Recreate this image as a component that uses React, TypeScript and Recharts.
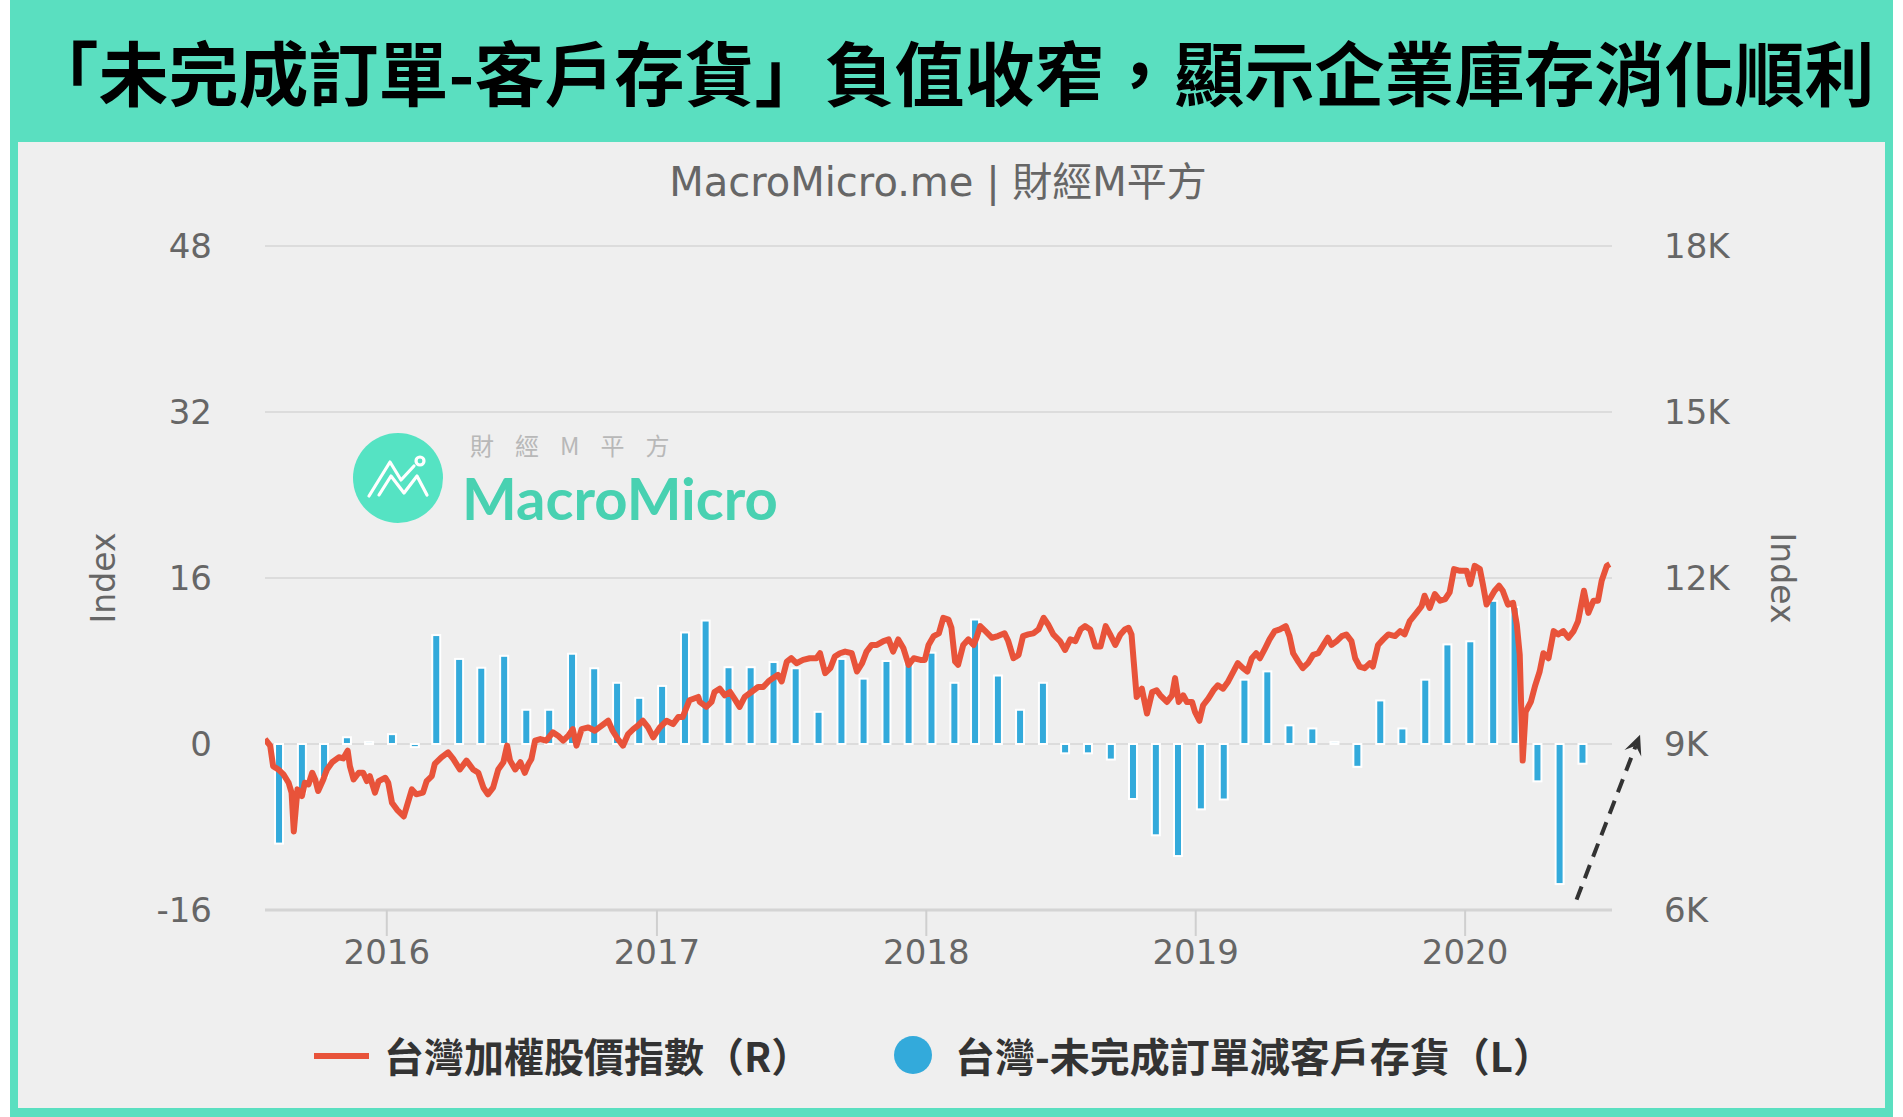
import React from 'react'
import { Bar, CartesianGrid, ComposedChart, Line, ReferenceLine, XAxis, YAxis } from 'recharts'

// monthly: Taiwan unfilled orders minus customer inventories (left axis)
const months = [
  '2015-08', '2015-09', '2015-10', '2015-11', '2015-12',
  '2016-01', '2016-02', '2016-03', '2016-04', '2016-05', '2016-06', '2016-07', '2016-08', '2016-09', '2016-10', '2016-11', '2016-12',
  '2017-01', '2017-02', '2017-03', '2017-04', '2017-05', '2017-06', '2017-07', '2017-08', '2017-09', '2017-10', '2017-11', '2017-12',
  '2018-01', '2018-02', '2018-03', '2018-04', '2018-05', '2018-06', '2018-07', '2018-08', '2018-09', '2018-10', '2018-11', '2018-12',
  '2019-01', '2019-02', '2019-03', '2019-04', '2019-05', '2019-06', '2019-07', '2019-08', '2019-09', '2019-10', '2019-11', '2019-12',
  '2020-01', '2020-02', '2020-03', '2020-04', '2020-05', '2020-06',
]
const backlogValues = [
  -9.6, -4.7, -3.2, 0.65, 0.2,
  0.95, -0.3, 10.5, 8.2, 7.35, 8.5, 3.3, 3.3, 8.7, 7.3, 5.9, 4.45,
  5.6, 10.75, 11.9, 7.4, 7.4, 7.9, 7.3, 3.1, 8.2, 6.3, 8.0, 8.0,
  8.8, 5.9, 12.0, 6.6, 3.3, 5.9, -0.9, -0.9, -1.5, -5.3, -8.8, -10.8,
  -6.3, -5.35, 6.2, 7.0, 1.8, 1.5, 0.2, -2.2, 4.2, 1.5, 6.2, 9.6,
  9.9, 13.8, 13.2, -3.6, -13.5, -1.9,
]

// TAIEX (right axis)
const indexDates = [
  '2015-07-20', '2015-07-27', '2015-07-31',
  '2015-08-07', '2015-08-14', '2015-08-21', '2015-08-25', '2015-08-28', '2015-08-31',
  '2015-09-02', '2015-09-08', '2015-09-12', '2015-09-17', '2015-09-22', '2015-09-26', '2015-09-30',
  '2015-10-07', '2015-10-12', '2015-10-19', '2015-10-28',
  '2015-11-03', '2015-11-09', '2015-11-12', '2015-11-17', '2015-11-24', '2015-11-30',
  '2015-12-05', '2015-12-09', '2015-12-16', '2015-12-21', '2015-12-30',
  '2016-01-03', '2016-01-08', '2016-01-15', '2016-01-24', '2016-01-28',
  '2016-02-04', '2016-02-10', '2016-02-19', '2016-02-24',
  '2016-03-02', '2016-03-06', '2016-03-15', '2016-03-24', '2016-03-31',
  '2016-04-09', '2016-04-18', '2016-04-27',
  '2016-05-04', '2016-05-11', '2016-05-17', '2016-05-24', '2016-05-31',
  '2016-06-07', '2016-06-12', '2016-06-16', '2016-06-23', '2016-06-30',
  '2016-07-06', '2016-07-11', '2016-07-15', '2016-07-20', '2016-07-27',
  '2016-08-04', '2016-08-13', '2016-08-20', '2016-08-27',
  '2016-09-03', '2016-09-09', '2016-09-14', '2016-09-21', '2016-09-30',
  '2016-10-09', '2016-10-15', '2016-10-27',
  '2016-11-02', '2016-11-09', '2016-11-16', '2016-11-23', '2016-11-30',
  '2016-12-06', '2016-12-13', '2016-12-20', '2016-12-27',
  '2017-01-05', '2017-01-14', '2017-01-23', '2017-01-30',
  '2017-02-05', '2017-02-14', '2017-02-26', '2017-02-28',
  '2017-03-09', '2017-03-16', '2017-03-20', '2017-03-27',
  '2017-04-03', '2017-04-10', '2017-04-16', '2017-04-23', '2017-04-30',
  '2017-05-09', '2017-05-18', '2017-05-25',
  '2017-06-01', '2017-06-07', '2017-06-14', '2017-06-19', '2017-06-26',
  '2017-07-02', '2017-07-09', '2017-07-18', '2017-07-27',
  '2017-08-05', '2017-08-10', '2017-08-17', '2017-08-24', '2017-08-30',
  '2017-09-06', '2017-09-13', '2017-09-22', '2017-09-29',
  '2017-10-06', '2017-10-12', '2017-10-19', '2017-10-26',
  '2017-11-04', '2017-11-11', '2017-11-17', '2017-11-24',
  '2017-12-01', '2017-12-08', '2017-12-15', '2017-12-24', '2017-12-30',
  '2018-01-04', '2018-01-11', '2018-01-18', '2018-01-24', '2018-01-31',
  '2018-02-04', '2018-02-09', '2018-02-13', '2018-02-20', '2018-02-27',
  '2018-03-06', '2018-03-10', '2018-03-15', '2018-03-22', '2018-03-31',
  '2018-04-08', '2018-04-17', '2018-04-22', '2018-04-29',
  '2018-05-06', '2018-05-12', '2018-05-19', '2018-05-26',
  '2018-06-02', '2018-06-09', '2018-06-15', '2018-06-22',
  '2018-07-01', '2018-07-08', '2018-07-15', '2018-07-22', '2018-07-29',
  '2018-08-04', '2018-08-11', '2018-08-18', '2018-08-25',
  '2018-09-01', '2018-09-07', '2018-09-14', '2018-09-21', '2018-09-27',
  '2018-10-02', '2018-10-06', '2018-10-09', '2018-10-13', '2018-10-20', '2018-10-27',
  '2018-11-03', '2018-11-09', '2018-11-14', '2018-11-23', '2018-11-30',
  '2018-12-04', '2018-12-09', '2018-12-15', '2018-12-20', '2018-12-27', '2018-12-31',
  '2019-01-06', '2019-01-11', '2019-01-18', '2019-01-25', '2019-01-31',
  '2019-02-07', '2019-02-14', '2019-02-21', '2019-02-27',
  '2019-03-06', '2019-03-12', '2019-03-18', '2019-03-24', '2019-03-29',
  '2019-04-05', '2019-04-11', '2019-04-18', '2019-04-25',
  '2019-05-03', '2019-05-08', '2019-05-13', '2019-05-20', '2019-05-26',
  '2019-06-02', '2019-06-09', '2019-06-16', '2019-06-23', '2019-06-29',
  '2019-07-04', '2019-07-11', '2019-07-18', '2019-07-24', '2019-07-31',
  '2019-08-05', '2019-08-11', '2019-08-18', '2019-08-25', '2019-08-29',
  '2019-09-05', '2019-09-12', '2019-09-19', '2019-09-28',
  '2019-10-05', '2019-10-11', '2019-10-18', '2019-10-27',
  '2019-11-03', '2019-11-07', '2019-11-14', '2019-11-21', '2019-11-28',
  '2019-12-05', '2019-12-11', '2019-12-17', '2019-12-25',
  '2020-01-03', '2020-01-08', '2020-01-14', '2020-01-21', '2020-01-25', '2020-01-30',
  '2020-02-06', '2020-02-10', '2020-02-16', '2020-02-21', '2020-02-28',
  '2020-03-06', '2020-03-11', '2020-03-15', '2020-03-19', '2020-03-23', '2020-03-30',
  '2020-04-05', '2020-04-11', '2020-04-16', '2020-04-23', '2020-04-30',
  '2020-05-06', '2020-05-13', '2020-05-20', '2020-05-27',
  '2020-06-02', '2020-06-10', '2020-06-16', '2020-06-23', '2020-06-29',
  '2020-07-04', '2020-07-11', '2020-07-15',
]
const indexValues = [
  9090, 8970, 8600,
  8540, 8450, 8300, 8120, 7420, 7870,
  8180, 8060, 8300, 8270, 8480, 8360, 8150,
  8360, 8540, 8670, 8760,
  8740, 8880, 8600, 8360, 8480, 8480,
  8330, 8420, 8120, 8330, 8390,
  8300, 7940, 7810, 7690, 7870,
  8180, 8090, 8120, 8330,
  8420, 8640, 8760, 8850, 8730,
  8540, 8700, 8540,
  8480, 8210, 8090, 8210, 8540,
  8670, 8970, 8700, 8540, 8670,
  8480, 8640, 8730, 9060, 9090,
  9060, 9210, 9150, 9060,
  9150, 9270, 8970, 9270, 9300,
  9240, 9300, 9420,
  9240, 9090, 8970, 9180, 9270,
  9330, 9420, 9300, 9120,
  9300, 9420, 9360, 9490,
  9490, 9790, 9850, 9760,
  9670, 9760, 9940, 10000,
  9880, 9940, 9820, 9670, 9850,
  9940, 10030, 10030,
  10130, 10190, 10250, 10130, 10490,
  10550, 10460, 10520, 10550,
  10550, 10640, 10280, 10370, 10580,
  10640, 10670, 10640, 10310,
  10460, 10670, 10790, 10790,
  10860, 10890, 10670, 10890,
  10730, 10430, 10550, 10520, 10520,
  10790, 10950, 11000, 11280, 11250,
  11100, 10490, 10430, 10790, 10890,
  10790, 10920, 11130, 11040, 10920,
  10950, 11000, 10860, 10550,
  10610, 10950, 10980, 11000,
  11070, 11280, 11160, 10980,
  10860, 10700, 10890, 10860, 11070,
  11130, 11070, 10760, 10760,
  11130, 10980, 10790, 10980, 11070,
  11100, 10980, 10490, 9850, 10000, 9550,
  9940, 9970, 9880, 9760, 9880,
  10190, 9760, 9880, 9760, 9760, 9580,
  9420, 9700, 9820, 9970, 10060,
  10000, 10130, 10310, 10460,
  10370, 10310, 10550, 10640, 10550,
  10730, 10890, 11040, 11070,
  11130, 10950, 10640, 10490, 10370,
  10460, 10610, 10640, 10790, 10920,
  10790, 10860, 10950, 10980, 10860,
  10550, 10400, 10370, 10460, 10400,
  10790, 10890, 10980, 10950,
  11040, 10980, 11220, 11370,
  11490, 11680, 11460, 11710, 11590,
  11620, 11740, 12160, 12130,
  12130, 11890, 12220, 12160, 11890, 11520,
  11680, 11770, 11860, 11770, 11520,
  11550, 11160, 10610, 8700, 9580, 9760,
  10060, 10310, 10640, 10550, 11040,
  10980, 11040, 10920, 11040,
  11220, 11770, 11370, 11590, 11590,
  11950, 12220, 12250,
]

const yearLabels = ['2016', '2017', '2018', '2019', '2020']
const leftTicks = [-16, 0, 16, 32, 48]
const rightTicks = [6000, 9000, 12000, 15000, 18000]
const dateRange = ['2015-07-20', '2020-07-18']
const arrowPath = [
  { date: '2020-05-31', value: -15 },
  { date: '2020-08-25', value: 0.9 },
]
const legendItems = ['台灣加權股價指數（R）', '台灣-未完成訂單減客戶存貨（L）']

const barData = months.map((m, i) => {
  const [y, mo] = m.split('-').map(Number)
  return { t: Date.UTC(y, mo - 1, 8), backlog: backlogValues[i] }
})
const lineData = indexDates.map((d, i) => ({ t: Date.parse(d), twse: indexValues[i] }))
const yearTicks = yearLabels.map((y) => Date.UTC(Number(y), 0, 1))

const TEAL = '#5ADFC0'
const RED = '#E8533A'
const BLUE = '#33AADB'
const AXIS_FONT = 'DejaVu Sans, Verdana, sans-serif'
const CJK_FONT = '"Noto Sans CJK TC", "Noto Sans CJK SC", sans-serif'
const tickStyle = { fill: '#666', fontSize: 34, fontFamily: AXIS_FONT }
const COLUMN_WIDTH = 8

// fixed-width column centred on the month, white outline like the source
const Column = (props: any) => {
  const { x, y, width, height } = props
  if (x == null || y == null || !height) return null
  const cx = x + width / 2
  const top = Math.min(y, y + height)
  const h = Math.abs(height)
  return (
    <rect
      x={cx - COLUMN_WIDTH / 2}
      y={top}
      width={COLUMN_WIDTH}
      height={h}
      fill={BLUE}
      stroke="#FFFFFF"
      strokeWidth={2}
    />
  )
}

const DashedArrow = (props: any) => {
  const { x1, y1, x2, y2 } = props
  const len = Math.hypot(x2 - x1, y2 - y1)
  const ux = (x2 - x1) / len
  const uy = (y2 - y1) / len
  const px = -uy
  const py = ux
  const head = 20
  const half = 9
  const bx = x2 - ux * head
  const by = y2 - uy * head
  const nx = x2 - ux * head * 0.6
  const ny = y2 - uy * head * 0.6
  return (
    <g>
      <line x1={x1} y1={y1} x2={nx} y2={ny} stroke="#333" strokeWidth={4} strokeDasharray="14 9" />
      <path
        d={`M${x2},${y2} L${bx + px * half},${by + py * half} L${nx},${ny} L${bx - px * half},${by - py * half} Z`}
        fill="#333"
      />
    </g>
  )
}

const AxisTitle = ({ viewBox, dx, angle }: any) => {
  const cx = viewBox.x + dx
  const cy = viewBox.y + viewBox.height / 2
  return (
    <text
      x={cx}
      y={cy}
      transform={`rotate(${angle} ${cx} ${cy})`}
      textAnchor="middle"
      dominantBaseline="central"
      fill="#666"
      fontSize={33}
      fontFamily={AXIS_FONT}
    >
      Index
    </text>
  )
}

const Watermark = () => (
  <svg width={480} height={120} style={{ position: 'absolute', left: 340, top: 420 }}>
    <circle cx={58} cy={58} r={45} fill="#55E3C3" />
    <g fill="none" stroke="#fff" strokeWidth={3.2} strokeLinecap="round" strokeLinejoin="round">
      <polyline points="29,76 50,42 61,60 74,46" />
      <polyline points="39,75 51,56 64,73 77,56 87,75" />
      <circle cx={80} cy={41} r={4} />
    </g>
    <text x={130} y={35} fontSize={24} fill="#B8B8B8" letterSpacing={21} fontFamily={CJK_FONT}>
      財經M平方
    </text>
    <text x={122} y={100} fontSize={58} fontWeight={700} fill="#48D1B1" fontFamily="Lato, sans-serif">
      MacroMicro
    </text>
  </svg>
)

const legendText = {
  position: 'absolute' as const,
  top: 1029,
  lineHeight: '52px',
  fontSize: 40,
  fontWeight: 700,
  color: '#333',
  fontFamily: CJK_FONT,
  whiteSpace: 'nowrap' as const,
}

const App = () => {
  return (
    <div style={{ position: 'absolute', left: 0, top: 0, width: 1903, height: 1117, background: '#fff', overflow: 'hidden' }}>
      <div style={{ position: 'absolute', left: 10, top: 0, width: 1883, height: 1117, background: TEAL }} />
      <div
        style={{
          position: 'absolute', left: 10, top: 0, width: 1883, height: 140,
          display: 'flex', alignItems: 'center', justifyContent: 'center',
          fontFamily: CJK_FONT, fontWeight: 700, fontSize: 70, color: '#000', whiteSpace: 'nowrap',
        }}
      >
        「未完成訂單-客戶存貨」負值收窄，顯示企業庫存消化順利
      </div>
      <div style={{ position: 'absolute', left: 18, top: 142, width: 1867, height: 966, background: '#EFEFEF' }}>
        <div
          style={{
            position: 'absolute', left: 520, top: 14, width: 800, lineHeight: '52px', textAlign: 'center',
            fontSize: 40, color: '#666', fontFamily: `${AXIS_FONT.split(',')[0]}, ${CJK_FONT}`, whiteSpace: 'nowrap',
          }}
        >
          MacroMicro.me | 財經M平方
        </div>
        <ComposedChart
          width={1867}
          height={966}
          data={barData}
          margin={{ top: 104, right: 0, bottom: 138, left: 0 }}
          style={{ fontFamily: AXIS_FONT }}
        >
          <CartesianGrid yAxisId="left" vertical={false} stroke="#DCDCDC" strokeWidth={2} />
          <XAxis
            dataKey="t"
            type="number"
            domain={[Date.parse(dateRange[0]), Date.parse(dateRange[1])]}
            allowDataOverflow
            ticks={yearTicks}
            tickFormatter={(v: number) => String(new Date(v).getUTCFullYear())}
            height={60}
            tick={tickStyle}
            tickSize={26}
            tickMargin={4}
            axisLine={{ stroke: '#D4D4D4', strokeWidth: 3 }}
            tickLine={{ stroke: '#CFCFCF', strokeWidth: 2 }}
          />
          <YAxis
            yAxisId="left"
            width={247}
            domain={[leftTicks[0], leftTicks[leftTicks.length - 1]]}
            ticks={leftTicks}
            allowDataOverflow
            axisLine={false}
            tickLine={false}
            tickSize={0}
            tickMargin={53}
            tick={tickStyle}
            label={(p: any) => <AxisTitle viewBox={p.viewBox} dx={85} angle={-90} />}
          />
          <YAxis
            yAxisId="right"
            orientation="right"
            width={273}
            domain={[rightTicks[0], rightTicks[rightTicks.length - 1]]}
            ticks={rightTicks}
            allowDataOverflow
            axisLine={false}
            tickLine={false}
            tickSize={0}
            tickMargin={52}
            tick={tickStyle}
            tickFormatter={(v: number) => `${v / 1000}K`}
            label={(p: any) => <AxisTitle viewBox={p.viewBox} dx={170} angle={90} />}
          />
          <Bar
            yAxisId="left"
            dataKey="backlog"
            fill={BLUE}
            shape={Column}
            isAnimationActive={false}
          />
          <Line
            yAxisId="right"
            data={lineData}
            dataKey="twse"
            type="linear"
            dot={false}
            stroke={RED}
            strokeWidth={6}
            strokeLinejoin="round"
            isAnimationActive={false}
          />
          <ReferenceLine
            yAxisId="left"
            ifOverflow="visible"
            segment={arrowPath.map((p) => ({ x: Date.parse(p.date), y: p.value }))}
            shape={DashedArrow}
          />
        </ComposedChart>
      </div>
      <Watermark />
      {/* legend */}
      <div style={{ position: 'absolute', left: 314, top: 1053, width: 55, height: 6, background: RED }} />
      <div style={{ ...legendText, left: 384 }}>{legendItems[0]}</div>
      <div style={{ position: 'absolute', left: 894, top: 1036, width: 38, height: 38, borderRadius: '50%', background: BLUE }} />
      <div style={{ ...legendText, left: 955 }}>{legendItems[1]}</div>
    </div>
  )
}

export default App
